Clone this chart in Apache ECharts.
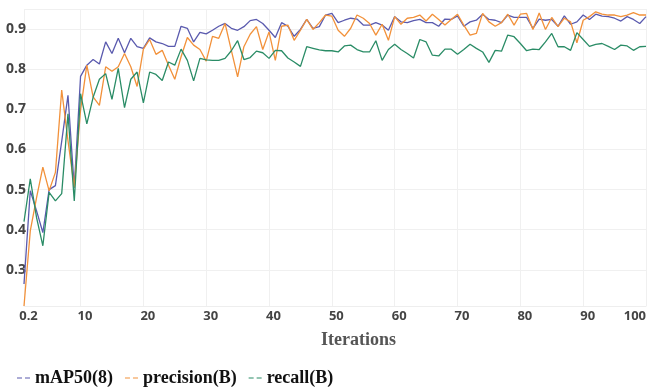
<!DOCTYPE html>
<html><head><meta charset="utf-8">
<script src="https://cdn.jsdelivr.net/npm/echarts@6/dist/echarts.min.js"></script>
<style>html,body{margin:0;padding:0;background:#fff}#c{width:649px;height:387px}</style>
</head><body><div id="c"></div>
<script>
const iterations = [];
for (let i = 1; i <= 100; i++) iterations.push(i);

const seriesNames = ['mAP50(8)', 'precision(B)', 'recall(B)'];

const mAP50 = [
0.265,0.497,0.447,0.393,0.50,0.51,0.62,0.735,0.505,0.782,
0.81,0.824,0.813,0.868,0.839,0.877,0.841,0.877,0.856,0.852,
0.878,0.868,0.864,0.857,0.857,0.907,0.902,0.868,0.892,0.888,
0.897,0.907,0.914,0.902,0.897,0.906,0.921,0.924,0.914,0.897,
0.879,0.916,0.907,0.882,0.899,0.924,0.902,0.906,0.935,0.939,
0.916,0.922,0.927,0.925,0.91,0.91,0.916,0.91,0.897,0.931,
0.918,0.916,0.921,0.924,0.916,0.916,0.907,0.925,0.924,0.933,
0.907,0.918,0.922,0.937,0.924,0.922,0.916,0.935,0.929,0.929,
0.929,0.902,0.925,0.922,0.924,0.907,0.933,0.912,0.918,0.935,
0.924,0.937,0.932,0.931,0.927,0.92,0.931,0.924,0.914,0.931];

const precision = [
0.21,0.397,0.48,0.556,0.497,0.543,0.748,0.622,0.506,0.698,
0.81,0.731,0.71,0.806,0.795,0.806,0.839,0.806,0.757,0.85,
0.874,0.837,0.847,0.81,0.775,0.831,0.879,0.86,0.849,0.82,
0.882,0.877,0.914,0.847,0.781,0.856,0.887,0.906,0.849,0.893,
0.822,0.907,0.91,0.872,0.897,0.924,0.899,0.916,0.935,0.932,
0.897,0.882,0.902,0.935,0.927,0.914,0.885,0.912,0.872,0.931,
0.912,0.927,0.929,0.935,0.92,0.937,0.924,0.91,0.924,0.937,
0.91,0.885,0.889,0.939,0.918,0.907,0.916,0.937,0.91,0.937,
0.939,0.899,0.94,0.899,0.929,0.906,0.927,0.918,0.866,0.922,
0.931,0.943,0.937,0.935,0.935,0.931,0.935,0.941,0.935,0.935];

const recall = [
0.42,0.527,0.43,0.36,0.493,0.472,0.49,0.689,0.472,0.739,
0.664,0.73,0.775,0.789,0.725,0.802,0.704,0.775,0.793,0.716,
0.793,0.787,0.772,0.818,0.81,0.85,0.822,0.771,0.827,0.823,
0.822,0.822,0.827,0.846,0.871,0.824,0.829,0.845,0.841,0.827,
0.847,0.846,0.828,0.818,0.807,0.856,0.852,0.848,0.846,0.846,
0.843,0.858,0.86,0.849,0.843,0.843,0.871,0.822,0.849,0.862,
0.849,0.839,0.828,0.874,0.868,0.835,0.833,0.85,0.85,0.837,
0.849,0.862,0.852,0.843,0.817,0.847,0.845,0.885,0.881,0.864,
0.846,0.85,0.849,0.868,0.889,0.856,0.856,0.847,0.891,0.874,
0.857,0.862,0.864,0.857,0.849,0.86,0.858,0.847,0.856,0.857];

const xTickValues = [1, 10, 20, 30, 40, 50, 60, 70, 80, 90, 100];
const xLabelValues = [1, 10, 20, 30, 40, 50, 60, 70, 80, 90, 100];
const yTickValues = [0.3, 0.4, 0.5, 0.6, 0.7, 0.8, 0.9, 0.95];
const yLabelValues = [0.3, 0.4, 0.5, 0.6, 0.7, 0.8, 0.9];
const colors = ['#5a5aae', '#f2913a', '#2a8c66'];

const pairs = arr => arr.map((v, i) => [iterations[i], v]);

const chart = echarts.init(document.getElementById('c'), null, {renderer: 'canvas'});
chart.setOption({
  animation: false,
  backgroundColor: '#ffffff',
  color: colors,
  grid: {left: 24, right: 2, top: 9, bottom: 81, containLabel: false},
  xAxis: {
    type: 'value', min: 1, max: 100,
    axisLine: {show: true, lineStyle: {color: '#eeeeee', width: 1}},
    axisTick: {show: false, customValues: xTickValues},
    splitLine: {show: true, lineStyle: {color: '#f0f0f0', width: 1}},
    axisLabel: {
      customValues: xLabelValues, margin: 4, padding: [0, 0, 0, 9],
      fontFamily: 'Open Sans', fontWeight: 'bold', fontSize: 13, color: '#444',
      alignMaxLabel: 'right',
      formatter: v => (v === 1 ? '0.2' : String(v))
    },
    name: 'Iterations', nameLocation: 'middle', nameGap: 25,
    nameTextStyle: {fontFamily: 'Liberation Serif', fontWeight: 'bold', fontSize: 18, color: '#555', padding: [0, 0, 0, 47]}
  },
  yAxis: {
    type: 'value', min: 0.21, max: 0.95,
    axisLine: {show: false},
    axisTick: {show: false, customValues: yTickValues},
    splitLine: {show: true, lineStyle: {color: '#f0f0f0', width: 1}},
    axisLabel: {
      customValues: yLabelValues, margin: -2,
      fontFamily: 'Open Sans', fontWeight: 'bold', fontSize: 14, color: '#444',
      formatter: v => v.toFixed(1)
    }
  },
  legend: {
    left: 12, top: 364, itemGap: 12, itemWidth: 13, itemHeight: 2,
    icon: 'path://M0,0h5v1h-5z M8,0h5v1h-5z',
    textStyle: {fontFamily: 'Liberation Serif', fontWeight: 'bold', fontSize: 18, color: '#111'},
    data: seriesNames
  },
  series: [
    {name: seriesNames[0], type: 'line', data: pairs(mAP50), showSymbol: false, symbol: 'none', lineStyle: {width: 1.3, color: colors[0]}},
    {name: seriesNames[1], type: 'line', data: pairs(precision), showSymbol: false, symbol: 'none', lineStyle: {width: 1.3, color: colors[1]}},
    {name: seriesNames[2], type: 'line', data: pairs(recall), showSymbol: false, symbol: 'none', lineStyle: {width: 1.3, color: colors[2]}}
  ]
});
</script>
</body></html>
